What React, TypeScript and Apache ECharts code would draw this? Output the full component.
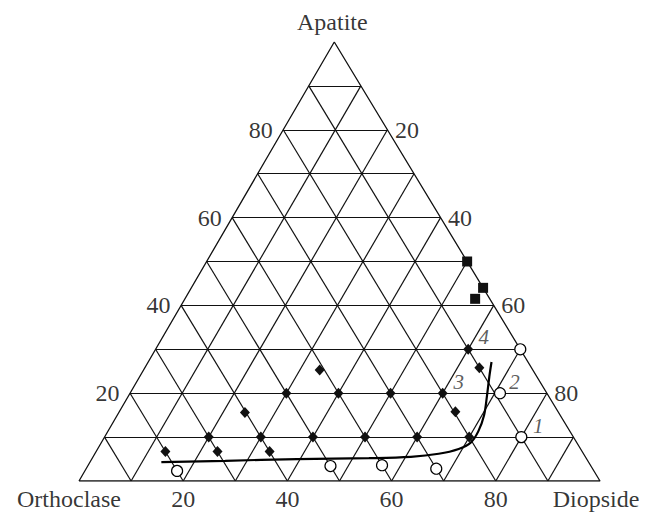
import { useEffect, useRef } from "react";
import * as echarts from "echarts";

// Ternary grid every 10 %
const GRID_STEPS = [10, 20, 30, 40, 50, 60, 70, 80, 90];
// Tick labels: apatite on the left edge, diopside on the right and bottom edges
const APATITE_TICKS = [20, 40, 60, 80];
const DIOPSIDE_TICKS = [20, 40, 60, 80];

// Each point is given as apatite % and diopside %; orthoclase is the remainder.
const diamondApatite = [10, 10, 10, 10, 10, 10, 6.7, 6.7, 6.7, 20, 20, 20, 20, 15.6, 25.3, 30, 25.8, 15.8];
const diamondDiopside = [20, 30, 40, 50, 60, 70, 13.3, 23.3, 33.3, 30, 40, 50, 60, 24.2, 33.8, 60, 64.2, 64.5];

const squareApatite = [50, 44, 41.5];
const squareDiopside = [50, 56, 55.7];

const circleApatite = [2.3, 3.4, 3.6, 2.8, 10, 20, 30];
const circleDiopside = [17.7, 46.6, 56.4, 67.2, 80, 71, 70];

// Boundary curve
const curveApatite = [4.3, 4.6, 5.0, 5.2, 5.5, 6.2, 7.3, 8.75, 11.3, 15, 19.4, 23.8, 27.1];
const curveDiopside = [13.7, 25.8, 39.4, 53.1, 61, 66, 69.3, 70.9, 71.1, 70.4, 68.8, 67.1, 65.9];

// Field numbers
const fieldNames = ["1", "2", "3", "4"];
const fieldApatite = [12.5, 22.6, 22.6, 32.8];
const fieldDiopside = [82, 72.5, 61.8, 61.6];

// Horizontal position of the apex as a fraction of the base width
const APEX = 0.49;
const toXY = (a: number, d: number): [number, number] => [d + a * APEX, a];

const FONT = "'Liberation Serif', 'Times New Roman', serif";

export default function App() {
  const ref = useRef<HTMLDivElement>(null);

  useEffect(() => {
    if (!ref.current) return;
    const chart = echarts.init(ref.current, undefined, { renderer: "svg" });

    const segments: { coords: [number, number][] }[] = [];
    GRID_STEPS.forEach((k) => {
      segments.push({ coords: [toXY(k, 0), toXY(k, 100 - k)] });
      segments.push({ coords: [toXY(0, k), toXY(100 - k, k)] });
      segments.push({ coords: [toXY(0, 100 - k), toXY(100 - k, 0)] });
    });
    const outline = [toXY(0, 0), toXY(0, 100), toXY(100, 0), toXY(0, 0)];

    const textStyle = { fontFamily: FONT, fontSize: 24, color: "#000" };

    const tickData: any[] = [];
    APATITE_TICKS.forEach((v) =>
      tickData.push({
        value: toXY(v, 0),
        label: { formatter: String(v), position: "left", distance: 10 },
      })
    );
    DIOPSIDE_TICKS.forEach((v) => {
      tickData.push({
        value: toXY(100 - v, v),
        label: { formatter: String(v), position: "right", distance: 7 },
      });
      tickData.push({
        value: toXY(0, v),
        label: { formatter: String(v), position: "bottom", distance: 5 },
      });
    });
    tickData.push({
      value: toXY(100, 0),
      label: { formatter: "Apatite", position: "top", distance: 8, offset: [-2, 0] },
    });
    tickData.push({
      value: toXY(0, 0),
      label: { formatter: "Orthoclase", position: "bottom", distance: 5, offset: [-10, 0] },
    });
    tickData.push({
      value: toXY(0, 100),
      label: { formatter: "Diopside", position: "bottom", distance: 5, offset: [-4, 0] },
    });

    chart.setOption({
      animation: false,
      grid: { left: 79, right: 47, top: 42, bottom: 32 },
      xAxis: { type: "value", min: 0, max: 100, show: false },
      yAxis: { type: "value", min: 0, max: 100, show: false },
      series: [
        {
          type: "lines",
          coordinateSystem: "cartesian2d",
          data: segments,
          lineStyle: { color: "#111", width: 1.2, opacity: 1 },
          silent: true,
          z: 1,
        },
        {
          type: "line",
          data: outline,
          symbol: "none",
          lineStyle: { color: "#111", width: 1.3 },
          silent: true,
          z: 1,
        },
        {
          type: "line",
          data: curveApatite.map((a, i) => toXY(a, curveDiopside[i])),
          symbol: "none",
          smooth: 0.35,
          lineStyle: { color: "#000", width: 2.2 },
          silent: true,
          z: 2,
        },
        {
          type: "scatter",
          data: diamondApatite.map((a, i) => toXY(a, diamondDiopside[i])),
          symbol: "diamond",
          symbolSize: [10, 11],
          itemStyle: { color: "#111", opacity: 1 },
          silent: true,
          z: 3,
        },
        {
          type: "scatter",
          data: squareApatite.map((a, i) => toXY(a, squareDiopside[i])),
          symbol: "rect",
          symbolSize: 10,
          itemStyle: { color: "#111", opacity: 1 },
          silent: true,
          z: 3,
        },
        {
          type: "scatter",
          data: circleApatite.map((a, i) => toXY(a, circleDiopside[i])),
          symbol: "circle",
          symbolSize: 11,
          itemStyle: { color: "#fff", borderColor: "#000", borderWidth: 1.2, opacity: 1 },
          silent: true,
          z: 4,
        },
        {
          type: "scatter",
          data: fieldNames.map((n, i) => ({
            value: toXY(fieldApatite[i], fieldDiopside[i]),
            label: { formatter: n },
          })),
          symbol: "circle",
          symbolSize: 1,
          itemStyle: { color: "rgba(0,0,0,0)" },
          label: {
            show: true,
            position: "inside",
            fontFamily: FONT,
            fontStyle: "italic",
            fontSize: 21,
            color: "#333",
          },
          silent: true,
          z: 5,
        },
        {
          type: "scatter",
          data: tickData,
          symbol: "circle",
          symbolSize: 1,
          itemStyle: { color: "rgba(0,0,0,0)" },
          label: { show: true, ...textStyle },
          silent: true,
          z: 5,
        },
      ],
    });

    return () => chart.dispose();
  }, []);

  return (
    <div
      ref={ref}
      style={{ position: "fixed", left: 0, top: 0, width: 647, height: 513, background: "#fff" }}
    />
  );
}
